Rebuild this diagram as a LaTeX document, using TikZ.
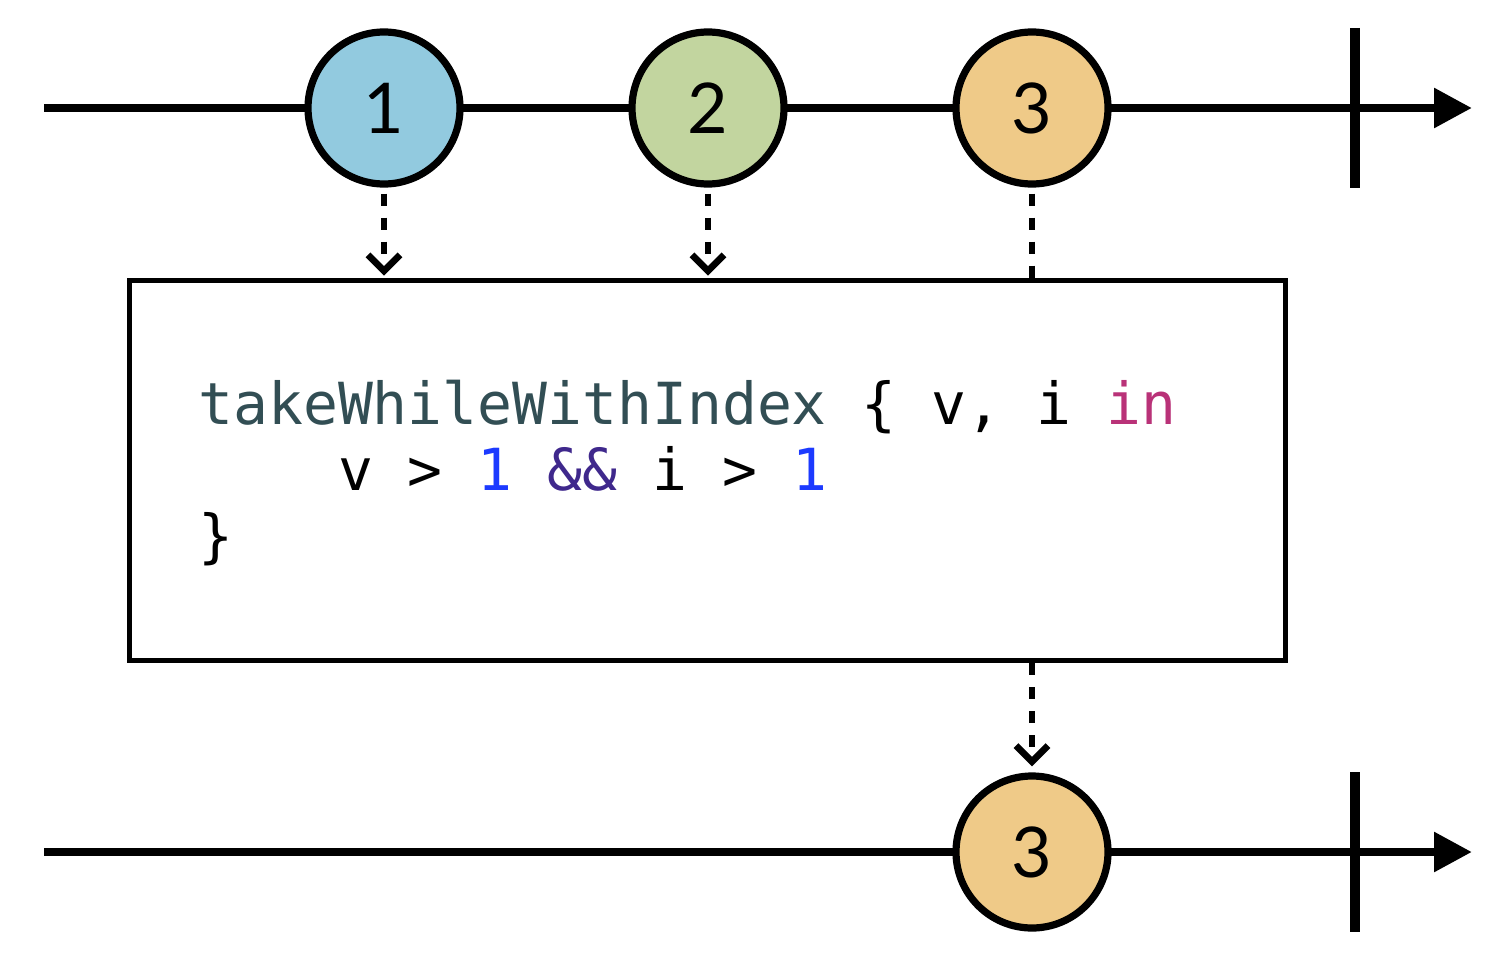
\documentclass[tikz,border=0pt]{standalone}
\usepackage{fontspec}
\setmonofont{DejaVu Sans Mono}
\newfontfamily\marblefont{Lato}
\usetikzlibrary{arrows.meta,positioning}

\definecolor{mblue}{RGB}{146,202,223}
\definecolor{mgreen}{RGB}{194,213,159}
\definecolor{morange}{RGB}{239,202,136}
\definecolor{cfunc}{RGB}{50,78,84}
\definecolor{ckey}{RGB}{185,50,120}
\definecolor{cnum}{RGB}{28,58,255}
\definecolor{cop}{RGB}{63,40,140}

\begin{document}
\begin{tikzpicture}[
    x=0.5pt, y=-0.5pt,
    timeline/.style={line width=4.4pt, -{Triangle[length=19pt, width=19pt]}},
    endtick/.style={line width=5pt},
    marble/.style={circle, draw, line width=3.6pt, minimum size=76pt, inner sep=0pt,
                   font=\marblefont\fontsize{35}{35}\selectfont},
    opbox/.style={draw, line width=2.8pt, minimum width=578pt, minimum height=190pt, inner sep=0pt},
    code/.style={font=\ttfamily\fontsize{29}{33}\selectfont, align=left, inner sep=0pt},
    flow/.style={line width=3pt, dash pattern=on 6pt off 6pt,
                 -{Straight Barb[length=8pt, width=16pt, line width=3.4pt]}},
    trail/.style={line width=3pt, dash pattern=on 6pt off 6pt},
]
\useasboundingbox (0,0) rectangle (1508,963);

% =====================  INPUT  =====================
\coordinate (in start) at (44,108);
\coordinate (in end)   at (1472,108);
\coordinate (in tick top) at (1355,28);
\coordinate (in tick bot) at (1355,188);

\draw[timeline] (in start) -- (in end);
\draw[endtick]  (in tick top) -- (in tick bot);

\node[marble, fill=mblue]   (in1) at (384,108)  {1};
\node[marble, fill=mgreen]  (in2) at (708,108)  {2};
\node[marble, fill=morange] (in3) at (1032,108) {3};

% =====================  OPERATOR  =====================
\node[opbox] (op) at (707.5,470.5) {};
\node[code, anchor=base west] (opcode) at (198,556)
  {\textcolor{cfunc}{takeWhileWithIndex} \{ v, i \textcolor{ckey}{in}\\
   \phantom{xxxx}v > \textcolor{cnum}{1} \textcolor{cop}{\&\&} i > \textcolor{cnum}{1}\\
   \}};

\draw[flow]  ([yshift=-3pt]in1.south) -- ([yshift=1pt]in1 |- op.north);
\draw[flow]  ([yshift=-3pt]in2.south) -- ([yshift=1pt]in2 |- op.north);
\draw[trail] ([yshift=-3pt]in3.south) -- (in3 |- op.north);

% =====================  OUTPUT  =====================
\coordinate (out start) at (44,852);
\coordinate (out end)   at (1472,852);
\coordinate (out tick top) at (1355,772);
\coordinate (out tick bot) at (1355,932);

\draw[timeline] (out start) -- (out end);
\draw[endtick]  (out tick top) -- (out tick bot);

\node[marble, fill=morange] (out3) at (1032,852) {3};

\draw[flow] (out3 |- op.south) -- ([yshift=3pt]out3.north);

\end{tikzpicture}
\end{document}
